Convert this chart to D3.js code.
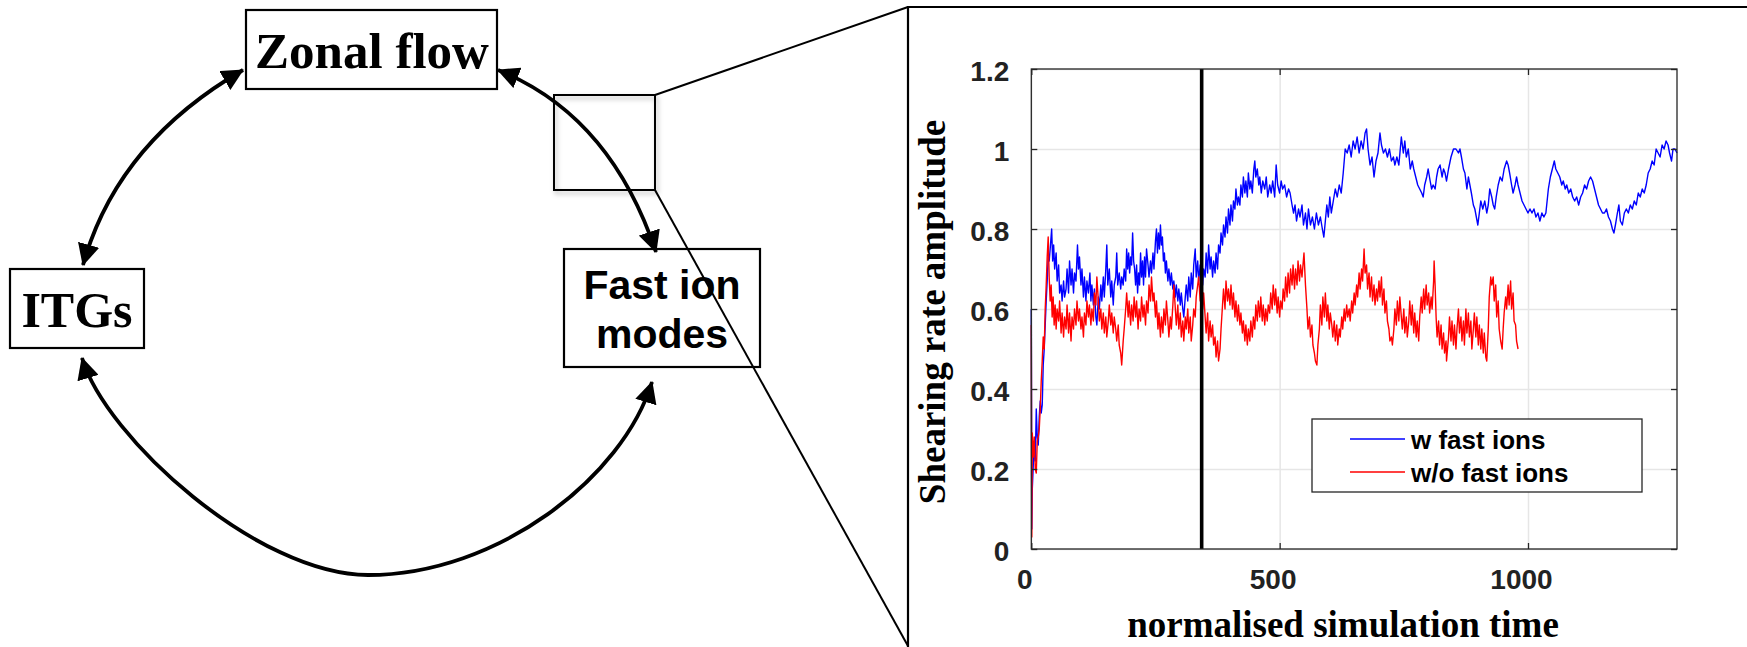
<!DOCTYPE html>
<html>
<head>
<meta charset="utf-8">
<script src="https://cdn.jsdelivr.net/npm/d3@7"></script>
<style>
  body { margin: 0; background: #fff; }
  svg { display: block; }
</style>
</head>
<body>
<svg id="fig" width="1747" height="647"></svg>
<script>
"use strict"

// axis ticks
var yTicks = [0, 0.2, 0.4, 0.6, 0.8, 1, 1.2]
var xTicks = [0, 500, 1000]
var markerTime = 343

var seriesNames = ["w fast ions", "w/o fast ions"]
var seriesColors = ["#0000ff", "#ff0000"]

// shearing rate with fast ions, [time, value]
var withFast = [
[0,0.60],[1,0.05],[2,0.15],[4,0.21],[6,0.25],[8,0.22],[10,0.35],[12,0.28],[14,0.26],[16,0.33],[18,0.37],[20,0.34],[22,0.36],[24,0.46],[26,0.50],[28,0.56],[30,0.62],[32,0.67],[34,0.73],[36,0.72],[38,0.75],[41,0.80],[43,0.72],[45,0.76],[47,0.70],[50,0.74],[52,0.67],[55,0.71],[57,0.64],[60,0.66],[62,0.62],[65,0.67],[67,0.63],[70,0.65],[72,0.70],[75,0.64],[77,0.72],[80,0.66],[82,0.70],[85,0.64],[87,0.69],[90,0.67],[93,0.76],[95,0.70],[97,0.73],
[100,0.66],[102,0.70],[105,0.63],[107,0.68],[110,0.62],[112,0.67],[115,0.64],[118,0.69],[120,0.62],[122,0.66],[125,0.61],[127,0.65],[130,0.58],[132,0.56],[135,0.63],[137,0.60],[140,0.66],[142,0.62],[145,0.68],[147,0.63],[150,0.70],[152,0.76],[154,0.66],[157,0.70],[160,0.63],[162,0.67],[165,0.61],[167,0.66],[170,0.68],[172,0.74],[174,0.66],[177,0.69],[180,0.65],[182,0.68],[185,0.66],[187,0.70],[190,0.67],[192,0.75],[194,0.70],[196,0.74],[198,0.69],
[200,0.73],[202,0.71],[204,0.79],[206,0.72],[208,0.70],[210,0.66],[212,0.71],[214,0.64],[216,0.69],[218,0.66],[220,0.74],[222,0.68],[224,0.72],[226,0.66],[228,0.73],[230,0.68],[232,0.75],[235,0.71],[237,0.68],[240,0.72],[242,0.69],[245,0.74],[247,0.70],[250,0.77],[252,0.80],[254,0.74],[256,0.79],[258,0.75],[260,0.81],[262,0.76],[264,0.78],[266,0.72],[268,0.74],[270,0.69],[272,0.72],[275,0.67],[277,0.70],[280,0.66],[282,0.69],[285,0.65],[287,0.67],[290,0.63],[292,0.66],[295,0.62],[297,0.65],
[300,0.61],[302,0.64],[305,0.60],[307,0.58],[310,0.63],[312,0.66],[315,0.62],[317,0.68],[320,0.63],[322,0.69],[325,0.65],[327,0.71],[330,0.75],[332,0.68],[335,0.72],[337,0.67],[340,0.71],[342,0.69],[345,0.66],[347,0.70],[350,0.68],[352,0.74],[355,0.69],[357,0.76],[360,0.70],[362,0.73],[365,0.68],[367,0.72],[370,0.69],[372,0.74],[375,0.70],[377,0.76],[380,0.74],[382,0.79],[385,0.76],[387,0.81],[390,0.78],[392,0.83],[395,0.79],[397,0.85],
[400,0.81],[402,0.86],[405,0.82],[407,0.87],[410,0.85],[412,0.90],[415,0.86],[417,0.88],[420,0.86],[422,0.91],[425,0.88],[427,0.93],[430,0.89],[432,0.92],[435,0.88],[437,0.94],[440,0.90],[442,0.92],[445,0.89],[448,0.95],[450,0.97],[452,0.93],[455,0.95],[458,0.91],[460,0.93],[463,0.89],[466,0.92],[470,0.90],[473,0.93],[476,0.88],[480,0.91],[483,0.89],[486,0.92],[490,0.88],[493,0.96],[496,0.91],
[500,0.89],[503,0.92],[506,0.90],[510,0.91],[514,0.88],[518,0.90],[521,0.89],[525,0.86],[528,0.84],[531,0.86],[534,0.82],[538,0.85],[541,0.83],[545,0.86],[548,0.81],[552,0.84],[555,0.80],[558,0.85],[562,0.81],[566,0.83],[570,0.80],[574,0.84],[578,0.81],[582,0.83],[586,0.80],[589,0.78],[592,0.82],[595,0.86],[598,0.83],
[601,0.88],[604,0.84],[608,0.87],[612,0.90],[616,0.88],[620,0.91],[624,0.89],[628,0.94],[632,1.00],[636,0.99],[640,1.01],[644,0.98],[648,1.02],[652,1.00],[656,1.03],[660,0.99],[664,1.02],[668,1.00],[672,1.04],[675,1.05],[678,1.00],[682,0.96],[686,0.98],[690,0.93],[694,0.97],[698,0.99],
[702,1.04],[705,1.01],[709,0.99],[713,1.00],[717,0.98],[721,1.00],[725,0.97],[729,0.98],[732,0.96],[736,0.98],[740,0.96],[745,1.03],[749,0.99],[752,1.02],[755,0.98],[759,1.00],[763,0.95],[767,0.97],[770,0.95],[774,0.93],[778,0.91],[782,0.90],[786,0.89],[789,0.88],[792,0.91],[796,0.93],[799,0.95],
[803,0.92],[806,0.90],[809,0.91],[813,0.90],[816,0.93],[819,0.95],[823,0.96],[827,0.93],[830,0.95],[833,0.94],[836,0.92],[840,0.95],[845,0.98],[850,1.00],[855,1.00],[860,0.99],[863,1.00],[866,0.98],[870,0.95],[873,0.94],[877,0.90],[880,0.93],[883,0.91],[886,0.89],[890,0.86],[893,0.85],[896,0.83],[899,0.81],
[902,0.84],[905,0.87],[909,0.85],[913,0.87],[917,0.84],[920,0.86],[923,0.90],[927,0.88],[930,0.86],[933,0.85],[936,0.88],[940,0.91],[944,0.93],[948,0.92],[952,0.95],[957,0.97],[960,0.96],[963,0.94],[967,0.91],[970,0.89],[974,0.91],[977,0.93],[980,0.91],[984,0.89],[988,0.87],[992,0.86],[996,0.85],
[1000,0.84],[1004,0.85],[1008,0.84],[1012,0.85],[1016,0.83],[1020,0.84],[1024,0.82],[1028,0.84],[1032,0.83],[1036,0.84],[1041,0.90],[1045,0.93],[1049,0.95],[1053,0.97],[1056,0.95],[1060,0.94],[1064,0.93],[1068,0.91],[1071,0.92],[1075,0.90],[1078,0.91],[1082,0.89],[1086,0.90],[1090,0.88],[1094,0.87],[1098,0.88],
[1102,0.86],[1106,0.88],[1110,0.89],[1114,0.91],[1118,0.90],[1122,0.92],[1126,0.93],[1130,0.92],[1134,0.90],[1138,0.88],[1142,0.86],[1146,0.85],[1150,0.84],[1154,0.84],[1158,0.85],[1162,0.83],[1166,0.82],[1170,0.80],[1173,0.79],[1176,0.81],[1180,0.84],[1183,0.86],[1186,0.82],[1190,0.81],[1194,0.84],[1198,0.85],
[1202,0.84],[1206,0.86],[1210,0.85],[1214,0.87],[1218,0.86],[1222,0.89],[1226,0.88],[1230,0.90],[1234,0.89],[1238,0.91],[1242,0.94],[1246,0.95],[1250,0.97],[1254,0.96],[1258,1.00],[1262,0.99],[1266,0.98],[1270,1.01],[1274,1.00],[1278,1.02],[1282,1.01],[1285,0.99],[1289,0.97],[1292,1.00],[1296,1.00],[1300,0.99]
]

// shearing rate without fast ions, [time, value]
var withoutFast = [
[0,0.56],[1,0.03],[2,0.29],[4,0.23],[6,0.28],[8,0.20],[10,0.19],[12,0.27],[14,0.28],[16,0.30],[18,0.35],[20,0.42],[22,0.47],[24,0.53],[26,0.50],[28,0.60],[30,0.66],[32,0.73],[34,0.78],[36,0.68],[38,0.62],[40,0.66],[42,0.58],[44,0.63],[46,0.56],[48,0.61],[50,0.55],[52,0.60],[55,0.57],[57,0.62],[60,0.54],[62,0.59],[65,0.53],[67,0.58],[70,0.55],[72,0.61],[75,0.54],[77,0.59],[80,0.52],[82,0.58],[85,0.55],[87,0.60],[90,0.56],[92,0.62],[95,0.57],[97,0.60],
[100,0.55],[102,0.58],[105,0.53],[107,0.59],[110,0.56],[112,0.62],[115,0.58],[117,0.61],[120,0.56],[122,0.60],[125,0.57],[127,0.64],[130,0.61],[132,0.68],[135,0.62],[137,0.57],[140,0.60],[142,0.55],[145,0.59],[147,0.54],[150,0.58],[152,0.53],[155,0.57],[157,0.61],[160,0.56],[162,0.59],[165,0.54],[167,0.58],[170,0.55],[172,0.52],[175,0.56],[177,0.51],[180,0.49],[182,0.46],[185,0.52],[187,0.55],[190,0.60],[192,0.64],[195,0.58],[197,0.62],
[200,0.56],[202,0.61],[205,0.57],[207,0.63],[210,0.58],[212,0.62],[215,0.55],[217,0.60],[220,0.57],[222,0.63],[225,0.58],[227,0.61],[230,0.56],[232,0.62],[235,0.59],[237,0.66],[240,0.62],[242,0.68],[245,0.62],[247,0.64],[250,0.58],[252,0.62],[255,0.55],[257,0.59],[260,0.53],[262,0.58],[265,0.54],[267,0.60],[270,0.56],[272,0.62],[275,0.57],[277,0.53],[280,0.58],[282,0.55],[285,0.61],[287,0.66],[290,0.60],[292,0.56],[295,0.61],[297,0.55],
[300,0.59],[302,0.53],[305,0.57],[307,0.52],[310,0.58],[312,0.55],[315,0.60],[317,0.54],[320,0.58],[322,0.52],[325,0.56],[327,0.60],[330,0.58],[332,0.63],[335,0.66],[337,0.68],[340,0.62],[342,0.66],[345,0.60],[347,0.64],[350,0.58],[352,0.54],[355,0.59],[357,0.52],[360,0.57],[362,0.53],[365,0.56],[367,0.51],[370,0.53],[372,0.48],[375,0.52],[377,0.47],[380,0.50],[382,0.55],[385,0.61],[387,0.65],[390,0.60],[392,0.67],[395,0.62],[397,0.65],
[400,0.61],[402,0.66],[405,0.60],[407,0.64],[410,0.58],[412,0.62],[415,0.57],[417,0.61],[420,0.56],[422,0.59],[425,0.54],[427,0.57],[430,0.52],[432,0.56],[435,0.51],[437,0.55],[440,0.52],[442,0.57],[445,0.53],[447,0.58],[450,0.55],[452,0.61],[455,0.57],[457,0.62],[460,0.58],[462,0.63],[465,0.57],[467,0.61],[470,0.56],[472,0.60],[475,0.57],[477,0.61],[480,0.59],[482,0.64],[485,0.60],[487,0.66],[490,0.61],[492,0.65],[495,0.59],[497,0.63],
[500,0.58],[502,0.62],[505,0.60],[507,0.65],[510,0.62],[512,0.68],[515,0.63],[517,0.69],[520,0.64],[522,0.70],[525,0.66],[527,0.71],[530,0.65],[532,0.70],[535,0.66],[537,0.72],[540,0.67],[542,0.71],[545,0.68],[549,0.74],[552,0.66],[555,0.60],[557,0.55],[560,0.58],[562,0.53],[565,0.56],[567,0.51],[570,0.49],[572,0.47],[575,0.46],[577,0.51],[580,0.55],[582,0.61],[585,0.56],[587,0.63],[590,0.58],[592,0.64],[595,0.57],[597,0.61],
[600,0.55],[602,0.59],[605,0.56],[607,0.53],[610,0.57],[612,0.52],[615,0.56],[617,0.51],[620,0.55],[622,0.53],[625,0.58],[627,0.55],[630,0.60],[632,0.57],[635,0.61],[637,0.58],[640,0.60],[642,0.57],[645,0.62],[647,0.59],[650,0.64],[652,0.61],[655,0.66],[657,0.63],[660,0.69],[662,0.65],[665,0.70],[667,0.67],[670,0.75],[672,0.69],[675,0.71],[677,0.65],[680,0.69],[682,0.63],[685,0.68],[687,0.62],[690,0.66],[692,0.61],[695,0.65],[697,0.62],
[700,0.67],[702,0.63],[705,0.68],[707,0.61],[710,0.65],[712,0.59],[715,0.62],[717,0.57],[720,0.55],[722,0.52],[725,0.53],[727,0.51],[730,0.55],[732,0.60],[735,0.56],[737,0.62],[740,0.57],[742,0.63],[745,0.58],[747,0.55],[750,0.60],[752,0.54],[755,0.58],[757,0.53],[760,0.57],[762,0.62],[765,0.56],[767,0.61],[770,0.54],[772,0.59],[775,0.53],[777,0.57],[780,0.52],[782,0.58],[785,0.63],[787,0.59],[790,0.65],[792,0.60],[795,0.66],[797,0.61],
[800,0.64],[802,0.59],[805,0.63],[807,0.60],[810,0.67],[811,0.72],[813,0.66],[815,0.58],[817,0.53],[820,0.57],[822,0.51],[825,0.56],[827,0.50],[830,0.54],[832,0.49],[835,0.52],[836,0.47],[840,0.53],[842,0.58],[845,0.52],[847,0.57],[850,0.51],[852,0.56],[855,0.50],[857,0.55],[860,0.60],[862,0.54],[865,0.58],[867,0.52],[870,0.57],[872,0.51],[875,0.60],[877,0.54],[880,0.59],[882,0.53],[885,0.57],[887,0.50],[890,0.55],[892,0.59],[895,0.53],[897,0.58],
[900,0.51],[902,0.56],[905,0.50],[907,0.55],[910,0.49],[912,0.54],[915,0.48],[917,0.47],[920,0.55],[922,0.63],[925,0.68],[927,0.66],[930,0.68],[932,0.62],[935,0.66],[937,0.58],[940,0.62],[942,0.55],[945,0.52],[948,0.50],[950,0.55],[952,0.59],[955,0.63],[957,0.60],[960,0.66],[962,0.61],[965,0.67],[967,0.60],[970,0.64],[972,0.57],[975,0.56],[977,0.52],[980,0.50]
]

var svg = d3.select("#fig")
var serif = "'Liberation Serif', 'Times New Roman', serif"
var sans = "'Liberation Sans', Arial, Helvetica, sans-serif"

var defs = svg.append("defs")
defs.append("marker")
    .attr("id", "head")
    .attr("viewBox", "0 0 22 22")
    .attr("refX", 21).attr("refY", 11)
    .attr("markerUnits", "userSpaceOnUse")
    .attr("markerWidth", 22).attr("markerHeight", 22)
    .attr("orient", "auto-start-reverse")
  .append("path")
    .attr("d", "M0,0 L22,11 L0,22 Z")
    .attr("fill", "#000")
var shadow = defs.append("filter").attr("id", "shadow")
    .attr("x", "-20%").attr("y", "-20%").attr("width", "150%").attr("height", "150%")
shadow.append("feDropShadow")
    .attr("dx", 2).attr("dy", 3).attr("stdDeviation", 2.5)
    .attr("flood-color", "#000").attr("flood-opacity", 0.3)

// ---------- left diagram ----------
var diagram = svg.append("g")

var boxes = [
    {x: 246, y: 10, w: 251, h: 79},
    {x: 10, y: 269, w: 134, h: 79},
    {x: 564, y: 249, w: 196, h: 118}
]
diagram.selectAll("rect.box").data(boxes).enter().append("rect")
    .attr("class", "box")
    .attr("x", d => d.x).attr("y", d => d.y)
    .attr("width", d => d.w).attr("height", d => d.h)
    .attr("fill", "#fff").attr("stroke", "#000").attr("stroke-width", 2.2)

diagram.append("text").attr("x", 372).attr("y", 68)
    .attr("text-anchor", "middle").attr("font-family", serif)
    .attr("font-weight", "bold").attr("font-size", 51).text("Zonal flow")
diagram.append("text").attr("x", 77).attr("y", 327)
    .attr("text-anchor", "middle").attr("font-family", serif)
    .attr("font-weight", "bold").attr("font-size", 50).text("ITGs")
diagram.append("text").attr("x", 662).attr("y", 299)
    .attr("text-anchor", "middle").attr("font-family", sans)
    .attr("font-weight", "bold").attr("font-size", 41).text("Fast ion")
diagram.append("text").attr("x", 662).attr("y", 348)
    .attr("text-anchor", "middle").attr("font-family", sans)
    .attr("font-weight", "bold").attr("font-size", 41).text("modes")

// curved double arrows
var p1 = d3.path()
p1.moveTo(83, 265); p1.quadraticCurveTo(117, 143, 243, 70)
var p2 = d3.path()
p2.moveTo(498, 70); p2.quadraticCurveTo(610, 115, 656, 252)
var p3 = d3.path()
p3.moveTo(82, 358)
p3.bezierCurveTo(106, 438, 258, 575, 368, 575)
p3.bezierCurveTo(498, 575, 623, 477, 652, 382)

diagram.selectAll("path.arrow").data([p1, p2, p3]).enter().append("path")
    .attr("class", "arrow")
    .attr("d", d => d.toString())
    .attr("fill", "none").attr("stroke", "#000").attr("stroke-width", 3.8)
    .attr("marker-start", "url(#head)").attr("marker-end", "url(#head)")

// zoom square and callout lines
diagram.append("rect")
    .attr("x", 554).attr("y", 95).attr("width", 101).attr("height", 95)
    .attr("fill", "none").attr("stroke", "#000").attr("stroke-width", 2)
    .attr("filter", "url(#shadow)")
diagram.append("line").attr("x1", 655).attr("y1", 95).attr("x2", 908).attr("y2", 7)
    .attr("stroke", "#000").attr("stroke-width", 2)
diagram.append("line").attr("x1", 655).attr("y1", 190).attr("x2", 908).attr("y2", 646)
    .attr("stroke", "#000").attr("stroke-width", 2)
diagram.append("path").attr("d", "M908,650 L908,7 L1750,7")
    .attr("fill", "none").attr("stroke", "#000").attr("stroke-width", 2.2)

// ---------- inset plot ----------
var x = d3.scaleLinear().domain([0, 1300]).range([1031.3, 1677])
var y = d3.scaleLinear().domain([0, 1.2]).range([549, 69])
var plotW = x.range()[1] - x.range()[0]
var plotH = y.range()[0] - y.range()[1]

var plot = svg.append("g")

// grid
plot.append("g").attr("transform", "translate(0," + y(0) + ")")
    .call(d3.axisBottom(x).tickValues(xTicks).tickSize(-plotH).tickFormat(""))
    .call(g => g.select(".domain").remove())
    .selectAll("line").attr("stroke", "#e6e6e6").attr("stroke-width", 1.5)
plot.append("g").attr("transform", "translate(" + x(0) + ",0)")
    .call(d3.axisLeft(y).tickValues(yTicks).tickSize(-plotW).tickFormat(""))
    .call(g => g.select(".domain").remove())
    .selectAll("line").attr("stroke", "#e6e6e6").attr("stroke-width", 1.5)

var line = d3.line().x(d => x(d[0])).y(d => y(d[1]))
plot.selectAll("path.series").data([withFast, withoutFast]).enter().append("path")
    .attr("class", "series")
    .attr("d", line)
    .attr("fill", "none")
    .attr("stroke", (d, i) => seriesColors[i])
    .attr("stroke-width", 1.4)
    .attr("stroke-linejoin", "round")

plot.append("line")
    .attr("x1", x(markerTime)).attr("x2", x(markerTime))
    .attr("y1", y(1.2)).attr("y2", y(0))
    .attr("stroke", "#000").attr("stroke-width", 3.6)

// axes with inward ticks
var axisColor = "#262626"
function styleAxis(g) {
    g.select(".domain").remove()
    g.selectAll(".tick line").attr("stroke", axisColor).attr("stroke-width", 1.3)
    g.selectAll(".tick text").attr("fill", "#222").attr("font-family", sans)
        .attr("font-weight", "bold").attr("font-size", 28)
}
plot.append("g").attr("transform", "translate(" + x(0) + ",0)")
    .call(d3.axisLeft(y).tickValues(yTicks).tickSize(-6).tickPadding(22).tickFormat(d3.format("~g")))
    .call(styleAxis)
    .selectAll(".tick text").attr("dy", "0.42em")
plot.append("g").attr("transform", "translate(" + x(1300) + ",0)")
    .call(d3.axisRight(y).tickValues(yTicks).tickSize(-6).tickFormat(""))
    .call(styleAxis)
plot.append("g").attr("transform", "translate(0," + y(0) + ")")
    .call(d3.axisBottom(x).tickValues(xTicks).tickSize(-6).tickPadding(20).tickFormat(d3.format("d")))
    .call(styleAxis)
    .selectAll(".tick text").attr("dy", "0.72em").attr("dx", -7)
plot.append("g").attr("transform", "translate(0," + y(1.2) + ")")
    .call(d3.axisTop(x).tickValues(xTicks).tickSize(-6).tickFormat(""))
    .call(styleAxis)

plot.append("rect")
    .attr("x", x(0)).attr("y", y(1.2)).attr("width", plotW).attr("height", plotH)
    .attr("fill", "none").attr("stroke", axisColor).attr("stroke-width", 1.3)

// axis titles
plot.append("text")
    .attr("transform", "translate(945," + 312 + ") rotate(-90)")
    .attr("text-anchor", "middle").attr("font-family", serif)
    .attr("font-weight", "bold").attr("font-size", 37)
    .text("Shearing rate amplitude")
plot.append("text")
    .attr("x", 1343).attr("y", 637)
    .attr("text-anchor", "middle").attr("font-family", serif)
    .attr("font-weight", "bold").attr("font-size", 37)
    .text("normalised simulation time")

// legend
var legend = plot.append("g")
legend.append("rect")
    .attr("x", 1312).attr("y", 419).attr("width", 330).attr("height", 73)
    .attr("fill", "#fff").attr("stroke", axisColor).attr("stroke-width", 1.3)
var rows = legend.selectAll("g.row").data(seriesNames).enter().append("g")
    .attr("class", "row")
    .attr("transform", (d, i) => "translate(0," + (439 + i * 33) + ")")
rows.append("line").attr("x1", 1350).attr("x2", 1405)
    .attr("stroke", (d, i) => seriesColors[i]).attr("stroke-width", 1.3)
rows.append("text").attr("x", 1411).attr("y", 9.5)
    .attr("font-family", sans).attr("font-weight", "bold").attr("font-size", 26)
    .attr("fill", "#000")
    .text(d => d)
</script>
</body>
</html>
